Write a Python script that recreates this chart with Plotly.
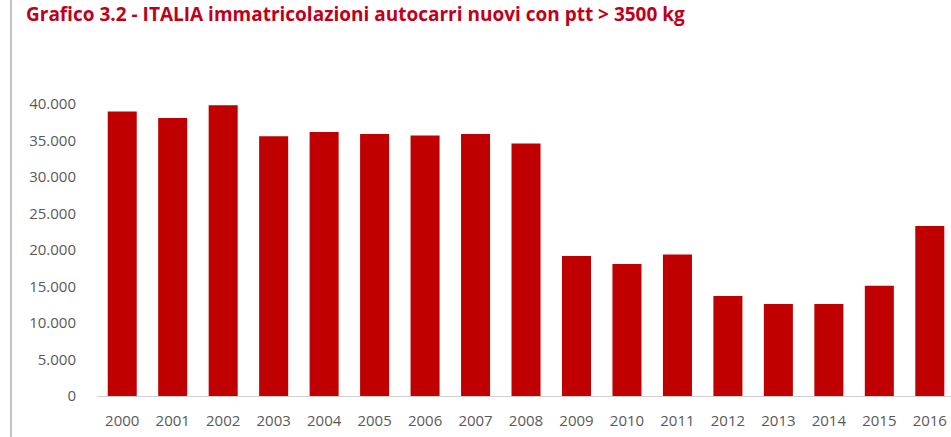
import plotly.graph_objects as go

# Registrations by year
years = ["2000", "2001", "2002", "2003", "2004", "2005", "2006", "2007", "2008",
         "2009", "2010", "2011", "2012", "2013", "2014", "2015", "2016"]
registrations = [39000, 38100, 39850, 35600, 36200, 35900, 35700, 35900, 34600,
                 19200, 18100, 19400, 13700, 12600, 12600, 15100, 23300]

y_tick_values = [0, 5000, 10000, 15000, 20000, 25000, 30000, 35000, 40000]
y_tick_labels = ["0", "5.000", "10.000", "15.000", "20.000", "25.000",
                 "30.000", "35.000", "40.000"]

title_text = "Grafico 3.2 - ITALIA immatricolazioni autocarri nuovi con ptt > 3500 kg"

bar_color = "#c00000"
label_color = "#595959"
font_family = "Open Sans, Noto Sans, sans-serif"

fig = go.Figure(
    go.Bar(
        x=years,
        y=registrations,
        marker=dict(color=bar_color, line=dict(width=0)),
        width=0.575,
    )
)

fig.update_layout(
    width=951,
    height=437,
    margin=dict(l=97, r=0, t=75, b=41),
    paper_bgcolor="white",
    plot_bgcolor="white",
    showlegend=False,
    font=dict(family=font_family, size=15, color=label_color),
    xaxis=dict(
        type="category",
        range=[-0.5, 16.42],
        showgrid=False,
        zeroline=False,
        showline=True,
        linecolor="#d0d0d0",
        linewidth=1,
        ticks="",
        ticklabelstandoff=11,
        tickfont=dict(size=15, color=label_color),
        fixedrange=True,
    ),
    yaxis=dict(
        range=[0, 44000],
        tickvals=y_tick_values,
        ticktext=y_tick_labels,
        showgrid=False,
        zeroline=False,
        showline=False,
        ticks="",
        ticklabelstandoff=20,
        tickfont=dict(size=15, color=label_color),
        fixedrange=True,
    ),
    annotations=[
        dict(
            text="<b>" + title_text + "</b>",
            xref="paper", yref="paper",
            x=(24 - 97) / 854, y=(396 + 1) / 321,
            xanchor="left", yanchor="top",
            showarrow=False,
            font=dict(family=font_family, size=19, color="#c0001a"),
        )
    ],
    shapes=[
        dict(
            type="line",
            xref="paper", yref="paper",
            x0=(11 - 97) / 854, x1=(11 - 97) / 854,
            y0=-0.3, y1=1.4,
            line=dict(color="#c4c4c4", width=2),
        )
    ],
)

fig.write_html("out.html")
